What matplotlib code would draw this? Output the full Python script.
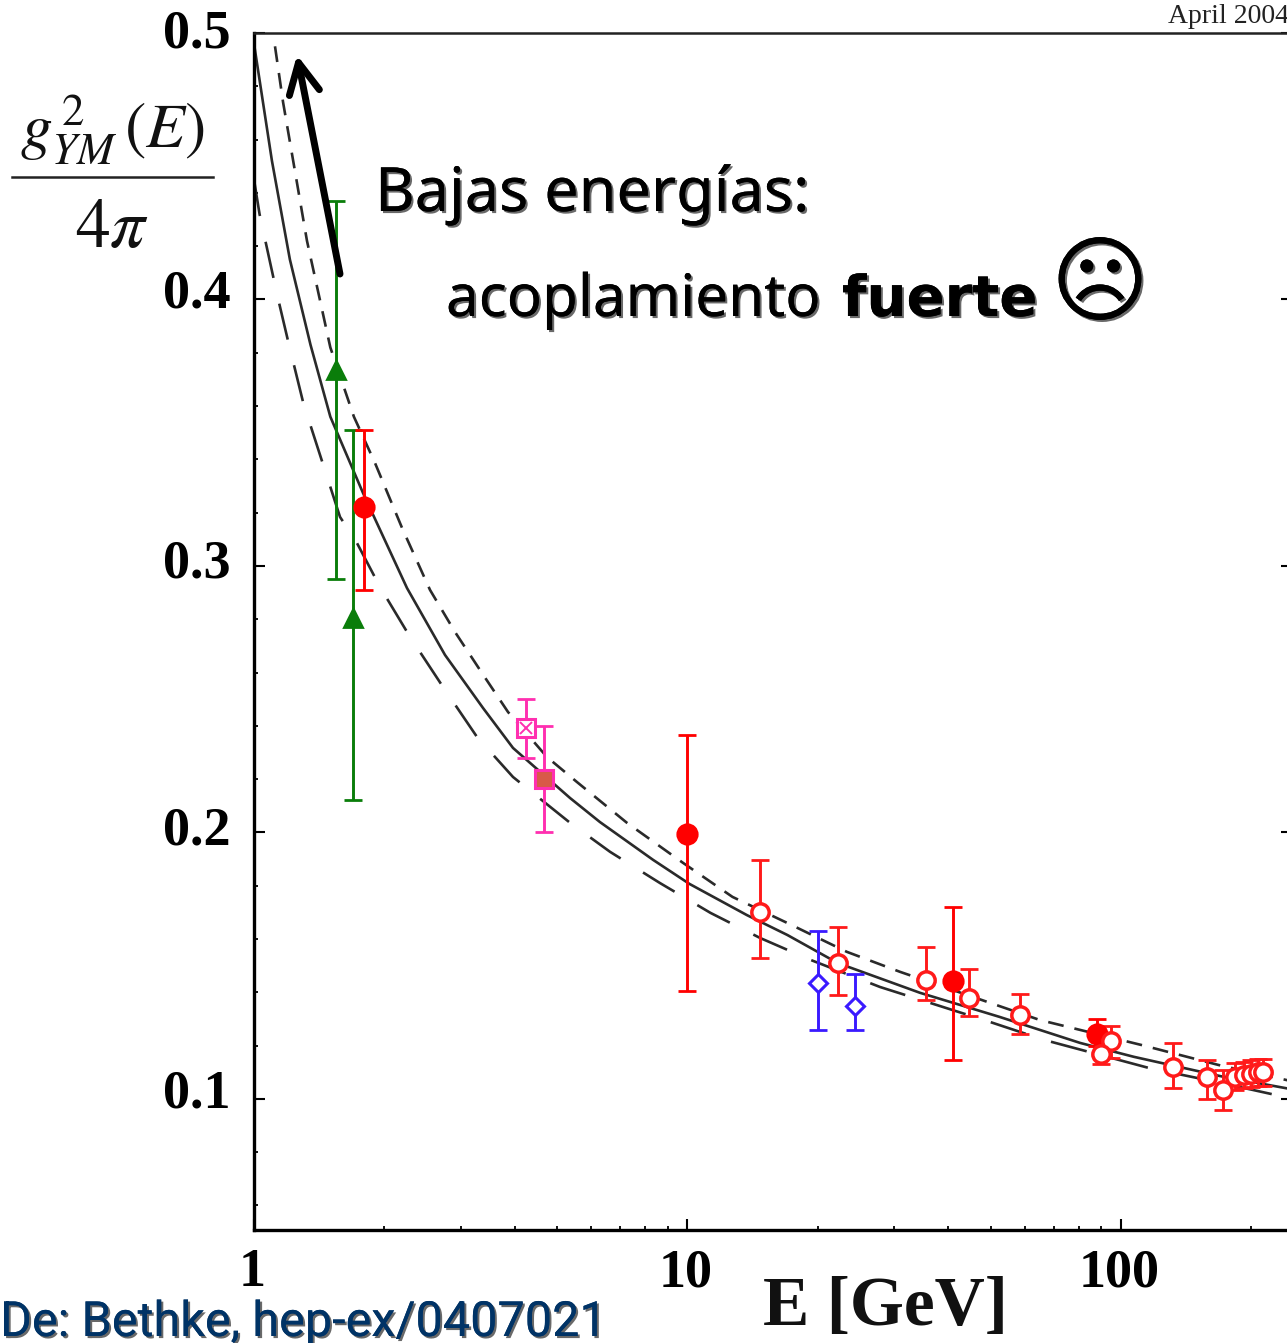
# Running coupling vs energy (after Bethke, hep-ex/0407021)

import matplotlib
matplotlib.use('Agg')
import matplotlib.pyplot as plt
import matplotlib.patheffects as pe
from matplotlib.lines import Line2D
from matplotlib.ticker import FixedLocator, NullFormatter
from matplotlib.transforms import ScaledTranslation

W, H = 1287, 1343

# curves: energy [GeV], coupling
E_mid = [1.0, 1.1, 1.21, 1.35, 1.5, 1.784, 2.254, 2.758, 3.375, 3.958, 5.36, 6.28, 8.33, 10.1,
         13.7, 17.0, 22.2, 34.4, 52.4, 80.5, 107, 170, 250]
a_mid = [0.496, 0.452, 0.415, 0.383, 0.356, 0.3274, 0.2917, 0.2666, 0.2467, 0.2317, 0.2129, 0.2039, 0.1897, 0.1807,
         0.169, 0.1615, 0.151, 0.1398, 0.1308, 0.121, 0.1158, 0.1085, 0.1035]
E_up = [1.118, 1.167, 1.325, 1.5, 1.7, 1.901, 2.195, 2.547, 2.909, 3.357, 3.854, 4.74, 5.56, 7.25, 9.76,
        12.7, 17, 23.3, 30.9, 65, 111, 170, 250]
a_up = [0.495, 0.474, 0.422, 0.382, 0.356, 0.3387, 0.3143, 0.291, 0.2752, 0.2598, 0.2452, 0.2283, 0.2189, 0.2036, 0.1886,
        0.1758, 0.166, 0.1552, 0.1477, 0.1296, 0.1203, 0.1125, 0.1065]
E_lo = [1.0, 1.03, 1.13, 1.2, 1.3, 1.579, 1.728, 1.953, 2.29, 2.729, 3.27, 3.958, 5.36, 6.63, 8.64,
        11.3, 14.7, 19.2, 27.8, 49.6, 66.6, 116, 170, 250]
a_lo = [0.445, 0.432, 0.402, 0.384, 0.361, 0.3184, 0.3086, 0.2921, 0.2734, 0.2546, 0.2358, 0.2208, 0.2036, 0.1927, 0.181,
        0.1698, 0.1604, 0.1522, 0.142, 0.129, 0.1221, 0.1116, 0.106, 0.1]

# measurements
green_E = [1.545, 1.69]
green_a = [0.3735, 0.2805]
green_hi = [0.437, 0.351]
green_lo = [0.295, 0.212]

red_E = [1.79, 10.0, 41.0, 88.0]
red_a = [0.322, 0.1995, 0.1443, 0.1244]
red_hi = [0.351, 0.2366, 0.172, 0.13]
red_lo = [0.291, 0.1405, 0.1146, 0.12]

open_E = [14.7, 22.2, 35.5, 44.5, 58.5, 95, 90, 132, 158, 172, 183, 192, 200, 207, 213]
open_a = [0.17, 0.151, 0.1447, 0.138, 0.1315, 0.1218, 0.117, 0.112, 0.1083, 0.1033, 0.1083, 0.109, 0.1095, 0.11, 0.11]
open_hi = [0.1897, 0.1645, 0.157, 0.1488, 0.1394, 0.1275, 0.122, 0.121, 0.1147, 0.111, 0.1135, 0.114, 0.1145, 0.115, 0.115]
open_lo = [0.153, 0.139, 0.137, 0.131, 0.1243, 0.1155, 0.113, 0.104, 0.1, 0.096, 0.1035, 0.104, 0.1045, 0.105, 0.105]

blue_E = [20.0, 24.3]
blue_a = [0.1435, 0.135]
blue_hi = [0.163, 0.147]
blue_lo = [0.126, 0.126]

pink_E = [4.24]
pink_a = [0.239]
pink_hi = [0.25]
pink_lo = [0.228]

brown_E = [4.66]
brown_a = [0.22]
brown_hi = [0.24]
brown_lo = [0.2]

xticks = [1, 10, 100]
xminor = [2, 3, 4, 5, 6, 7, 8, 9, 20, 30, 40, 50, 60, 70, 80, 90, 200]
yticks = [0.1, 0.2, 0.3, 0.4, 0.5]
yminor = [0.06, 0.08, 0.12, 0.14, 0.16, 0.18, 0.22, 0.24, 0.26, 0.28,
          0.32, 0.34, 0.36, 0.38, 0.42, 0.44, 0.46, 0.48]
ylabel_shift = [10, 7, 7, 11, 4]   # labels sit a bit above their ticks [px]


def fx(x):
    return x / W


def fy(y):
    return 1 - y / H


def bars(ax, e, a, lo, hi, color, edge, face, marker, ms, mew=2.0, cap=6.5):
    yerr = [[v - l for v, l in zip(a, lo)], [h - v for v, h in zip(a, hi)]]
    ax.errorbar(e, a, yerr=yerr, fmt='none', ecolor=color, elinewidth=2.1,
                capsize=cap, capthick=2.0, zorder=3)
    ax.plot(e, a, ls='none', marker=marker, ms=ms, mfc=face, mec=edge, mew=mew, zorder=4)


fig = plt.figure(figsize=(W / 100, H / 100), dpi=100, facecolor='white')
ax = fig.add_axes([fx(254), fy(1230), fx(1292 - 254), 1197 / H])
ax.set_xscale('log')
ax.set_xlim(1, 10 ** ((1292 - 254) / 433.5))
ax.set_ylim(0.0508, 0.5)

ax.plot(E_mid, a_mid, color='#2a2a2a', lw=1.9, zorder=2)
ax.plot(E_up, a_up, color='#2a2a2a', lw=1.9, ls=(0, (6, 4.2)), zorder=2)
ax.plot(E_lo, a_lo, color='#2a2a2a', lw=1.9, ls=(0, (14, 10)), zorder=2)

bars(ax, green_E, green_a, green_lo, green_hi, '#0a7d0a', '#0a7d0a', '#0a7d0a', '^', 13)
bars(ax, red_E, red_a, red_lo, red_hi, '#ff0000', '#ff0000', '#ff0000', 'o', 14)
bars(ax, open_E, open_a, open_lo, open_hi, '#ff1a1a', '#ff1a1a', 'white', 'o', 12.5, mew=2.5)
bars(ax, blue_E, blue_a, blue_lo, blue_hi, '#3a1aff', '#3a1aff', 'white', 'D', 9, mew=2.2)
bars(ax, pink_E, pink_a, pink_lo, pink_hi, '#ff2fb0', '#ff2fb0', 'white', 's', 12.5, mew=2.2)
ax.plot(pink_E, pink_a, ls='none', marker='x', ms=8, mec='#ff2fb0', mew=1.4, zorder=5)
bars(ax, brown_E, brown_a, brown_lo, brown_hi, '#ff2fb0', '#ff2fb0', '#d85a48', 's', 12.5, mew=2.2)

for side in ['left', 'bottom']:
    ax.spines[side].set_linewidth(2.4)
ax.spines['top'].set_linewidth(1.8)
ax.spines['top'].set_color('#222222')
ax.spines['right'].set_visible(False)

ax.xaxis.set_major_locator(FixedLocator(xticks))
ax.xaxis.set_minor_locator(FixedLocator(xminor))
ax.xaxis.set_minor_formatter(NullFormatter())
ax.set_xticklabels(['1', '10', '100'])
ax.yaxis.set_major_locator(FixedLocator(yticks))
ax.yaxis.set_minor_locator(FixedLocator(yminor))
ax.set_yticklabels(['0.1', '0.2', '0.3', '0.4', '0.5'])
ax.tick_params(axis='both', which='major', direction='in', length=8, width=1.5,
               labelsize=39, labelfontfamily='Liberation Serif')
ax.tick_params(axis='x', which='major', pad=13)
ax.tick_params(axis='y', which='major', pad=17, right=True)
ax.tick_params(axis='both', which='minor', direction='in', length=3, width=1.3)
for lab in ax.get_xticklabels() + ax.get_yticklabels():
    lab.set_fontweight('bold')
for lab, dy in zip(ax.get_yticklabels(), ylabel_shift):
    lab.set_transform(lab.get_transform() + ScaledTranslation(0, dy / 100, fig.dpi_scale_trans))
for lab in ax.get_xticklabels():
    lab.set_transform(lab.get_transform() + ScaledTranslation(-2 / 100, 0, fig.dpi_scale_trans))
ax.set_axisbelow(True)

shadow = [pe.withSimplePatchShadow(offset=(1.5, -1.5), shadow_rgbFace='#444444', alpha=0.8), pe.Normal()]

fig.text(fx(375), fy(211), 'Bajas energías:', fontsize=44, family='Noto Sans', color='black',
         path_effects=shadow)
fig.text(fx(446), fy(316), 'acoplamiento', fontsize=42, family='Noto Sans', color='black',
         path_effects=shadow)
fig.text(fx(842), fy(316), 'fuerte', fontsize=40.5, family='DejaVu Sans', weight='bold', color='black',
         path_effects=shadow)
fig.text(fx(1100), fy(287), '\u2639', fontsize=68, family='DejaVu Sans', color='black',
         ha='center', va='center', path_effects=shadow)

fig.text(fx(1168), fy(23), 'April 2004', fontsize=20, family='Liberation Serif', color='#222222')

fig.text(fx(113), fy(130), r'$g^{\,2}_{YM}\,(E)$', fontsize=46, ha='center', va='center',
         math_fontfamily='stix', color='#111111')
fig.text(fx(112), fy(228), r'$4\pi$', fontsize=50, ha='center', va='center',
         math_fontfamily='stix', color='#111111')
fig.add_artist(Line2D([fx(12), fx(213)], [fy(177), fy(177)], color='#222222', lw=1.8))

fig.text(fx(885), fy(1308), 'E [GeV]', fontsize=50, family='Liberation Serif', weight='bold',
         ha='center', va='center', color='#111111')
fig.text(fx(0), fy(1336), 'De: Bethke, hep-ex/0407021', fontsize=35, family='Roboto',
         color='#003366', path_effects=shadow)

ax.annotate('', xy=(fx(297), fy(55)), xytext=(fx(340), fy(274)),
            xycoords='figure fraction', textcoords='figure fraction',
            arrowprops=dict(arrowstyle='->,head_length=2.2,head_width=1.1', color='black', lw=5,
                            shrinkA=0, shrinkB=0), annotation_clip=False)

fig.savefig('out.png', dpi=100, facecolor='white')
